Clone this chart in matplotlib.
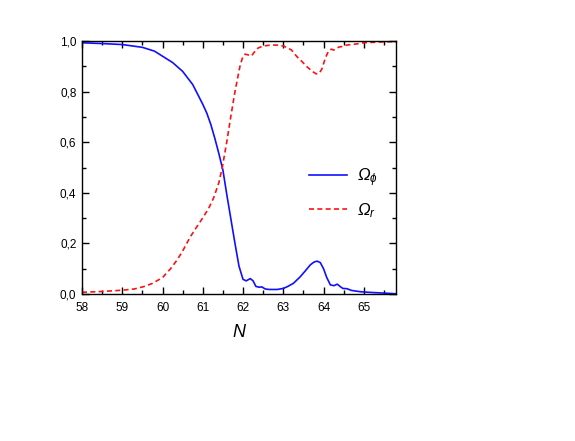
import matplotlib
matplotlib.use('Agg')
import matplotlib.pyplot as plt
from matplotlib.ticker import MultipleLocator, FuncFormatter

# Omega_phi (blue, solid)
n_phi = [58.0, 58.5, 59.0, 59.5, 59.8, 60.0, 60.25, 60.5, 60.75, 61.0, 61.1, 61.2, 61.3,
         61.4, 61.5, 61.6, 61.7, 61.8, 61.9, 62.0, 62.08, 62.18, 62.25, 62.32, 62.4, 62.47,
         62.55, 62.65, 62.85, 63.0, 63.1, 63.25, 63.42, 63.55, 63.67, 63.76, 63.84,
         63.92, 64.0, 64.08, 64.17, 64.26, 64.34, 64.41, 64.48, 64.58, 64.7, 64.92,
         65.2, 65.58, 65.8]
omega_phi = [0.993, 0.990, 0.986, 0.975, 0.960, 0.940, 0.915, 0.880, 0.828, 0.750, 0.715,
             0.670, 0.615, 0.555, 0.490, 0.390, 0.295, 0.200, 0.110, 0.058, 0.052, 0.061,
             0.052, 0.030, 0.027, 0.028, 0.020, 0.018, 0.018, 0.022, 0.029, 0.042, 0.068,
             0.092, 0.115, 0.126, 0.130, 0.124, 0.100, 0.065, 0.036, 0.033, 0.039, 0.030,
             0.022, 0.021, 0.014, 0.009, 0.006, 0.003, 0.001]

# Omega_r (red, dashed)
n_r = [58.0, 58.5, 59.0, 59.3, 59.53, 59.75, 60.0, 60.2, 60.36, 60.5, 60.69, 60.85,
       61.02, 61.15, 61.27, 61.4, 61.49, 61.6, 61.7, 61.8, 61.93, 62.0, 62.05, 62.13,
       62.21, 62.3, 62.38, 62.5, 62.68, 62.85, 63.01, 63.2, 63.34, 63.47, 63.59, 63.72,
       63.82, 63.9, 63.96, 64.05, 64.13, 64.2, 64.25, 64.32, 64.38, 64.45, 64.58, 64.8,
       65.0, 65.4, 65.8]
omega_r = [0.007, 0.010, 0.015, 0.020, 0.029, 0.042, 0.065, 0.100, 0.134, 0.170, 0.226,
           0.265, 0.306, 0.340, 0.380, 0.440, 0.505, 0.605, 0.705, 0.800, 0.905, 0.940,
           0.948, 0.945, 0.941, 0.960, 0.973, 0.980, 0.984, 0.984, 0.980, 0.965, 0.938,
           0.918, 0.898, 0.880, 0.870, 0.874, 0.890, 0.935, 0.962, 0.968, 0.964, 0.970,
           0.976, 0.978, 0.984, 0.988, 0.993, 0.996, 0.998]

plt.rcParams['font.family'] = ['Liberation Sans', 'DejaVu Sans']
plt.rcParams['mathtext.fontset'] = 'custom'
plt.rcParams['mathtext.it'] = 'Liberation Sans:italic'
plt.rcParams['mathtext.rm'] = 'Liberation Sans'

fig = plt.figure(figsize=(5.75, 4.41), dpi=100)
ax = fig.add_axes([0.1426, 0.3333, 0.5461, 0.5737])

ax.plot(n_phi, omega_phi, color='#1010ff', lw=1.2, label='Ω$_{\\phi}$')
ax.plot(n_r, omega_r, color='#ff1010', lw=1.2, linestyle=(0, (3, 2)), label='Ω$_{r}$')

ax.set_xlim(58, 65.8)
ax.set_ylim(0, 1.0)
ax.xaxis.set_major_locator(MultipleLocator(1))
ax.xaxis.set_minor_locator(MultipleLocator(0.5))
ax.yaxis.set_major_locator(MultipleLocator(0.2))
ax.yaxis.set_minor_locator(MultipleLocator(0.1))
ax.yaxis.set_major_formatter(FuncFormatter(lambda v, p: f'{v:.1f}'.replace('.', ',')))
ax.xaxis.set_major_formatter(FuncFormatter(lambda v, p: f'{v:.0f}'))
ax.tick_params(which='both', direction='in', top=True, right=True, labelsize=8.5, width=1)
ax.tick_params(axis='x', which='major', length=5, pad=6)
ax.tick_params(axis='y', which='major', length=5, pad=4)
ax.tick_params(which='minor', length=3)
for s in ax.spines.values():
    s.set_linewidth(1)

ax.set_xlabel('N', fontsize=13, fontstyle='italic', labelpad=7)

ax.legend(loc='upper left', bbox_to_anchor=(0.675, 0.565), frameon=False,
          prop={'size': 12, 'style': 'italic'},
          handlelength=2.3, labelspacing=0.75, handletextpad=0.6)

fig.savefig('out.png', dpi=100)
